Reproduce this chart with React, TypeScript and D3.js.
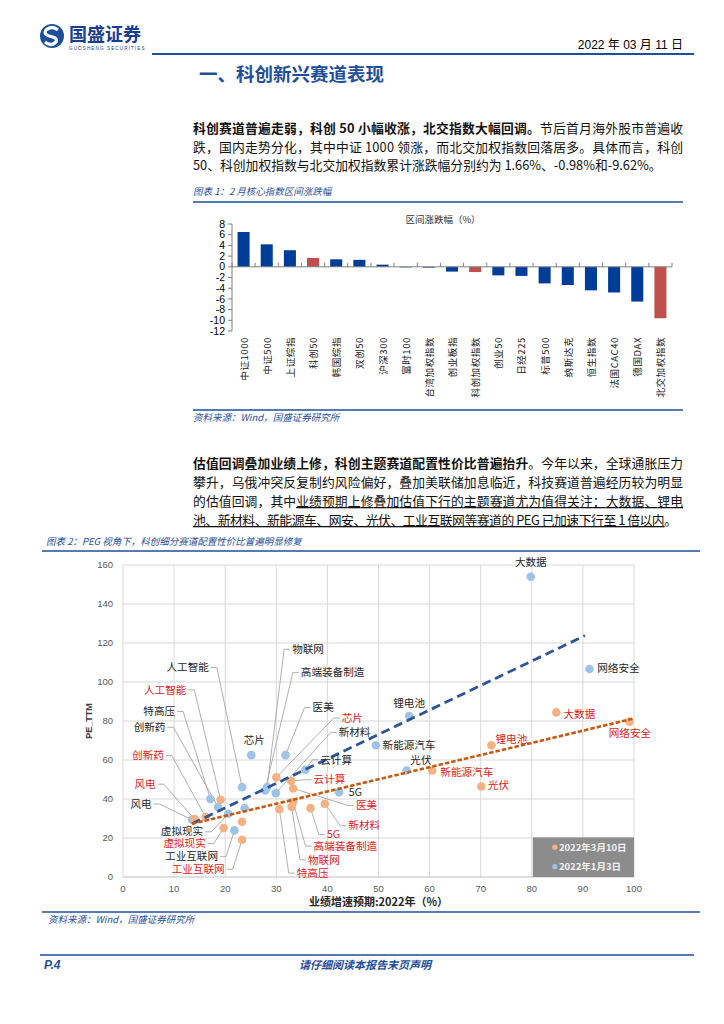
import * as d3 from 'd3';

// ---- 图表1：2月核心指数区间涨跌幅 ----
const barCategories = [
  '中证1000', '中证500', '上证综指', '科创50', '韩国综指', '双创50', '沪深300', '富时100',
  '台湾加权指数', '创业板指', '科创加权指数', '创业50', '日经225', '标普500', '纳斯达克',
  '恒生指数', '法国CAC40', '德国DAX', '北交加权指数',
];
const barValues = [6.5, 4.2, 3.1, 1.66, 1.4, 1.3, 0.4, -0.1, -0.15, -0.9, -0.98, -1.6, -1.7, -3.1, -3.4, -4.4, -4.8, -6.5, -9.62];
const barHighlight = ['科创50', '科创加权指数', '北交加权指数'];
const barTicks = [8, 6, 4, 2, 0, -2, -4, -6, -8, -10, -12];

// ---- 图表2：PEG 散点 ----
const janNames = ['大数据', '网络安全', '锂电池', '新能源汽车', '光伏', '芯片', '医美', '云计算', '5G', '新材料', '物联网', '高端装备制造', '人工智能', '特高压', '创新药', '风电', '虚拟现实', '工业互联网', ''];
const janGrowth = [79.8, 91.3, 56.0, 49.5, 55.5, 25.1, 31.8, 35.7, 42.3, 29.9, 28.2, 27.8, 23.3, 17.1, 18.6, 13.5, 20.6, 21.8, 23.8];
const janPE = [154, 106.7, 82.6, 67.6, 54.6, 62.5, 62.5, 55.0, 43.5, 43.0, 46.1, 44.4, 46.1, 40.0, 35.9, 29.4, 32.4, 23.9, 35.3];

const marNames = ['大数据', '网络安全', '锂电池', '新能源汽车', '光伏', '芯片', '云计算', '医美', '新材料', '5G', '高端装备制造', '物联网', '特高压', '人工智能', '创新药', '风电', '虚拟现实', '工业互联网', ''];
const marGrowth = [84.8, 99.1, 72.1, 60.5, 70.1, 30.0, 32.9, 33.3, 39.5, 36.7, 33.3, 33.0, 30.6, 19.1, 16.2, 14.0, 19.7, 23.3, 23.3];
const marPE = [84.4, 79.6, 67.6, 54.6, 46.4, 51.1, 49.2, 45.4, 37.6, 35.3, 38.4, 35.9, 34.8, 39.6, 30.6, 29.7, 25.1, 19.1, 28.3];

// 趋势线端点
const janTrend = [[13.5, 27.3], [90.4, 123.8]];
const marTrend = [[13.5, 27.3], [99.7, 81.1]];

const xTicks = [0, 10, 20, 30, 40, 50, 60, 70, 80, 90, 100];
const yTicks = [0, 20, 40, 60, 80, 100, 120, 140, 160];
const legendLabels = ['2022年3月10日', '2022年1月3日'];

// 数据标签摆放（数据坐标）
type Lbl = { name: string; lx: number; ly: number; anchor: 'start' | 'middle' | 'end'; leader: boolean };
const janLabels: Lbl[] = [
  { name: '大数据', lx: 79.8, ly: 161.2, anchor: 'middle', leader: false },
  { name: '网络安全', lx: 92.8, ly: 107, anchor: 'start', leader: false },
  { name: '锂电池', lx: 56, ly: 89.1, anchor: 'middle', leader: false },
  { name: '新能源汽车', lx: 50.8, ly: 67.8, anchor: 'start', leader: false },
  { name: '光伏', lx: 58.3, ly: 60.1, anchor: 'middle', leader: false },
  { name: '芯片', lx: 25.7, ly: 70, anchor: 'middle', leader: false },
  { name: '医美', lx: 37.1, ly: 86.9, anchor: 'start', leader: true },
  { name: '新材料', lx: 42.2, ly: 74.1, anchor: 'start', leader: true },
  { name: '云计算', lx: 38.6, ly: 60.1, anchor: 'start', leader: true },
  { name: '5G', lx: 44.2, ly: 43.5, anchor: 'start', leader: false },
  { name: '物联网', lx: 33.1, ly: 116.8, anchor: 'start', leader: true },
  { name: '高端装备制造', lx: 34.8, ly: 104.8, anchor: 'start', leader: true },
  { name: '人工智能', lx: 16.8, ly: 107.4, anchor: 'end', leader: true },
  { name: '特高压', lx: 10.2, ly: 84.9, anchor: 'end', leader: true },
  { name: '创新药', lx: 8.3, ly: 76.8, anchor: 'end', leader: true },
  { name: '风电', lx: 5.6, ly: 37.4, anchor: 'end', leader: true },
  { name: '虚拟现实', lx: 15.7, ly: 23.2, anchor: 'end', leader: true },
  { name: '工业互联网', lx: 18.6, ly: 10.4, anchor: 'end', leader: true },
];
const marLabels: Lbl[] = [
  { name: '大数据', lx: 86.2, ly: 83.2, anchor: 'start', leader: false },
  { name: '网络安全', lx: 99.2, ly: 73.8, anchor: 'middle', leader: false },
  { name: '锂电池', lx: 72.9, ly: 70.7, anchor: 'start', leader: false },
  { name: '新能源汽车', lx: 62.1, ly: 53.8, anchor: 'start', leader: false },
  { name: '光伏', lx: 71.4, ly: 47, anchor: 'start', leader: false },
  { name: '芯片', lx: 42.8, ly: 81.5, anchor: 'start', leader: true },
  { name: '云计算', lx: 37.3, ly: 49.9, anchor: 'start', leader: true },
  { name: '医美', lx: 45.6, ly: 36.7, anchor: 'start', leader: true },
  { name: '新材料', lx: 44.1, ly: 26.3, anchor: 'start', leader: true },
  { name: '5G', lx: 39.9, ly: 21.8, anchor: 'start', leader: true },
  { name: '高端装备制造', lx: 37.3, ly: 15.8, anchor: 'start', leader: true },
  { name: '物联网', lx: 36.2, ly: 8.8, anchor: 'start', leader: true },
  { name: '特高压', lx: 34.0, ly: 2.0, anchor: 'start', leader: true },
  { name: '人工智能', lx: 12.4, ly: 96, anchor: 'end', leader: true },
  { name: '创新药', lx: 8.0, ly: 62.2, anchor: 'end', leader: true },
  { name: '风电', lx: 6.4, ly: 47.6, anchor: 'end', leader: true },
  { name: '虚拟现实', lx: 16.2, ly: 17.2, anchor: 'end', leader: true },
  { name: '工业互联网', lx: 19.9, ly: 4.0, anchor: 'end', leader: true },
];

const BLUE = '#1f4e9a';
const CJK = '"Noto Sans CJK SC", sans-serif';
const NUM = '"Liberation Sans", Arial, sans-serif';

const BarChart = () => {
  const x = d3.scaleBand<string>().domain(barCategories).range([232, 672]).paddingInner(0.48).paddingOuter(0.24);
  const y = d3.scaleLinear().domain([-12, 8]).range([331, 224]);
  const y0 = y(0);
  const step = x.step();
  return (
    <g>
      <text x={443} y={223} textAnchor="middle" fontSize={9.5} fontFamily={CJK} fill="#333">区间涨跌幅（%）</text>
      {barCategories.map((c, i) => {
        const v = barValues[i];
        return (
          <rect key={c} x={x(c)} width={x.bandwidth()} y={Math.min(y(v), y0)} height={Math.abs(y(v) - y0)}
            fill={barHighlight.includes(c) ? '#c0504d' : '#003d99'} />
        );
      })}
      <line x1={232} x2={232} y1={y(8)} y2={y(-12)} stroke="#808080" strokeWidth={1} />
      {barTicks.map((t) => (
        <g key={t}>
          <line x1={228} x2={232} y1={y(t)} y2={y(t)} stroke="#808080" />
          <text x={225} y={y(t)} dy="0.35em" textAnchor="end" fontSize={10.5} fontFamily={NUM} fill="#000">{t}</text>
        </g>
      ))}
      <line x1={232} x2={672} y1={y0} y2={y0} stroke="#808080" strokeWidth={1} />
      {d3.range(barCategories.length + 1).map((i) => (
        <line key={i} x1={232 + i * step} x2={232 + i * step} y1={y0 - 4} y2={y0} stroke="#808080" />
      ))}
      {barCategories.map((c) => (
        <text key={c} transform={`translate(${(x(c) ?? 0) + x.bandwidth() / 2},337) rotate(-90)`} textAnchor="end"
          dominantBaseline="central" fontSize={9.5} letterSpacing={0.6} fontFamily={CJK} fill="#222">{c}</text>
      ))}
    </g>
  );
};

const Scatter = () => {
  const x = d3.scaleLinear().domain([0, 100]).range([123, 634]);
  const y = d3.scaleLinear().domain([0, 160]).range([877, 565]);
  const line = d3.line<number[]>().x((d) => x(d[0])).y((d) => y(d[1]));
  const jan = janNames.map((n, i) => ({ name: n, gx: janGrowth[i], pe: janPE[i] }));
  const mar = marNames.map((n, i) => ({ name: n, gx: marGrowth[i], pe: marPE[i] }));

  const leaders = (labels: Lbl[], pts: typeof jan, key: string) =>
    labels.filter((l) => l.leader).map((l) => {
      const p = pts.find((q) => q.name === l.name)!;
      const lx = x(l.lx);
      const ly = y(l.ly);
      const s = l.anchor === 'end' ? 1 : -1;
      const d = `M${lx + s * 2},${ly}L${lx + s * 8},${ly}L${x(p.gx)},${y(p.pe)}`;
      return <path key={key + l.name} d={d} fill="none" stroke="#a6a6a6" strokeWidth={0.9} />;
    });

  return (
    <g>
      {xTicks.map((t) => (
        <line key={'gx' + t} x1={x(t)} x2={x(t)} y1={y(160)} y2={y(0)} stroke="#d9d9d9" />
      ))}
      {yTicks.map((t) => (
        <line key={'gy' + t} x1={x(0)} x2={x(100)} y1={y(t)} y2={y(t)} stroke={t === 0 ? '#bfbfbf' : '#d9d9d9'} />
      ))}
      {yTicks.map((t) => (
        <text key={'ty' + t} x={x(0) - 10} y={y(t)} dy="0.35em" textAnchor="end" fontSize={9.5} fontFamily={NUM} fill="#595959">{t}</text>
      ))}
      {xTicks.map((t) => (
        <text key={'tx' + t} x={x(t)} y={892} textAnchor="middle" fontSize={9.5} fontFamily={NUM} fill="#595959">{t}</text>
      ))}
      <text transform={`translate(89,${y(80)}) rotate(-90)`} textAnchor="middle" dominantBaseline="central" fontSize={9} fontWeight={700} fontFamily={NUM} fill="#404040">PE_TTM</text>
      <text x={x(50)} y={906} textAnchor="middle" fontSize={11} fontWeight={700} fontFamily={CJK} fill="#262626">业绩增速预期:2022年（%）</text>

      {leaders(janLabels, jan, 'lj')}
      {leaders(marLabels, mar, 'lm')}

      {jan.map((p, i) => (
        <circle key={'j' + i} cx={x(p.gx)} cy={y(p.pe)} r={4.3} fill="#9dc3e6" />
      ))}
      {mar.map((p, i) => (
        <circle key={'m' + i} cx={x(p.gx)} cy={y(p.pe)} r={4.3} fill="#f4b183" />
      ))}

      <path d={line(janTrend) ?? ''} fill="none" stroke="#2f5597" strokeWidth={2.8} strokeDasharray="9 5" />
      <path d={line(marTrend) ?? ''} fill="none" stroke="#c55a11" strokeWidth={2.6} strokeDasharray="4.5 2" />

      {janLabels.map((l) => (
        <text key={'tj' + l.name} x={x(l.lx)} y={y(l.ly)} dy="0.35em" textAnchor={l.anchor} fontSize={10.6} fontFamily={CJK} fill="#262626">{l.name}</text>
      ))}
      {marLabels.map((l) => (
        <text key={'tm' + l.name} x={x(l.lx)} y={y(l.ly)} dy="0.35em" textAnchor={l.anchor} fontSize={10.6} fontFamily={CJK} fill="#e0201b">{l.name}</text>
      ))}

      <rect x={x(80.2)} y={y(20.3)} width={x(100) - x(80.2)} height={y(0) - y(20.3)} fill="#8c8c8c" />
      {legendLabels.map((t, i) => (
        <g key={t}>
          <circle cx={x(84.5)} cy={y(15.3 - i * 10)} r={2.6} fill={i === 0 ? '#f4b183' : '#9dc3e6'} />
          <text x={x(85.3)} y={y(15.3 - i * 10)} dy="0.36em" fontSize={9.5} fontWeight={700} fontFamily={CJK} fill="#f2f2f2">{t}</text>
        </g>
      ))}
    </g>
  );
};

export default function App() {
  const body = { fontFamily: CJK, fontSize: 12.8, fill: '#111' } as const;
  const cap = { fontFamily: CJK, fontSize: 9.5, fill: BLUE, fontStyle: 'italic' } as const;
  return (
    <svg width={724} height={1024} style={{ position: 'absolute', left: 0, top: 0, background: '#fff' }}>
      {/* header */}
      <circle cx={52} cy={36} r={12} fill="#1b4f9c" />
      <path d="M58,30 Q52,25 46,30 Q43,35 51,36.5 Q58,38 56,42 Q51,47 45,42" fill="none" stroke="#fff" strokeWidth={3.2} />
      <text x={69} y={41} fontSize={18} fontWeight={700} fontFamily={CJK} fill="#1a3d8f">国盛证券</text>
      <text x={69} y={50} fontSize={4.6} letterSpacing={1.1} fontFamily={NUM} fill="#1a3d8f">GUOSHENG SECURITIES</text>
      <text x={683} y={49} textAnchor="end" fontSize={12} fontFamily={NUM} fill="#000">
        2022 <tspan fontFamily={CJK}>年</tspan> 03 <tspan fontFamily={CJK}>月</tspan> 11 <tspan fontFamily={CJK}>日</tspan>
      </text>
      <line x1={152} x2={694} y1={54} y2={54} stroke={BLUE} strokeWidth={2} />
      <text x={199} y={81} fontSize={18.5} fontWeight={700} fontFamily={CJK} fill={BLUE}>一、科创新兴赛道表现</text>

      {/* paragraph 1 */}
      <text x={193} y={133} {...body} textLength={490} lengthAdjust="spacing">
        <tspan fontWeight={700}>科创赛道普遍走弱，科创 50 小幅收涨，北交指数大幅回调。</tspan>节后首月海外股市普遍收
      </text>
      <text x={193} y={151.5} {...body} textLength={490} lengthAdjust="spacing">跌，国内走势分化，其中中证 1000 领涨，而北交加权指数回落居多。具体而言，科创</text>
      <text x={193} y={170} {...body}>50、科创加权指数与北交加权指数累计涨跌幅分别约为 1.66%、-0.98%和-9.62%。</text>

      <text x={193} y={195} {...cap}>图表 1：2 月核心指数区间涨跌幅</text>
      <line x1={193} x2={683} y1={202} y2={202} stroke={BLUE} strokeWidth={1.5} />
      <BarChart />
      <line x1={193} x2={683} y1={410} y2={410} stroke={BLUE} strokeWidth={1.5} />
      <text x={193} y={421} {...cap}>资料来源：Wind，国盛证券研究所</text>

      {/* paragraph 2 */}
      <text x={193} y={468} {...body} textLength={490} lengthAdjust="spacing">
        <tspan fontWeight={700}>估值回调叠加业绩上修，科创主题赛道配置性价比普遍抬升</tspan>。今年以来，全球通胀压力
      </text>
      <text x={193} y={487} {...body} textLength={490} lengthAdjust="spacing">攀升，乌俄冲突反复制约风险偏好，叠加美联储加息临近，科技赛道普遍经历较为明显</text>
      <text x={193} y={506} {...body} textLength={490} lengthAdjust="spacing">
        的估值回调，其中<tspan style={{ textDecoration: 'underline' }}>业绩预期上修叠加估值下行的主题赛道尤为值得关注：大数据、锂电</tspan>
      </text>
      <text x={193} y={525} {...body} textLength={484} lengthAdjust="spacing">
        <tspan style={{ textDecoration: 'underline' }}>池、新材料、新能源车、网安、光伏、工业互联网等赛道的 PEG 已加速下行至 1 倍以内</tspan>。
      </text>

      <text x={46} y={545} {...cap}>图表 2：PEG 视角下，科创细分赛道配置性价比普遍明显修复</text>
      <line x1={42} x2={700} y1={551} y2={551} stroke={BLUE} strokeWidth={1.5} />
      <Scatter />
      <line x1={42} x2={700} y1={912} y2={912} stroke={BLUE} strokeWidth={1.5} />
      <text x={48} y={923} {...cap}>资料来源：Wind，国盛证券研究所</text>

      {/* footer */}
      <line x1={40} x2={694} y1={955} y2={955} stroke={BLUE} strokeWidth={1.5} />
      <text x={44} y={969} fontSize={12} fontWeight={700} fontStyle="italic" fontFamily={NUM} fill={BLUE}>P.4</text>
      <text x={365} y={969} textAnchor="middle" fontSize={11} fontWeight={700} fontStyle="italic" fontFamily={CJK} fill={BLUE}>请仔细阅读本报告末页声明</text>
    </svg>
  );
}
